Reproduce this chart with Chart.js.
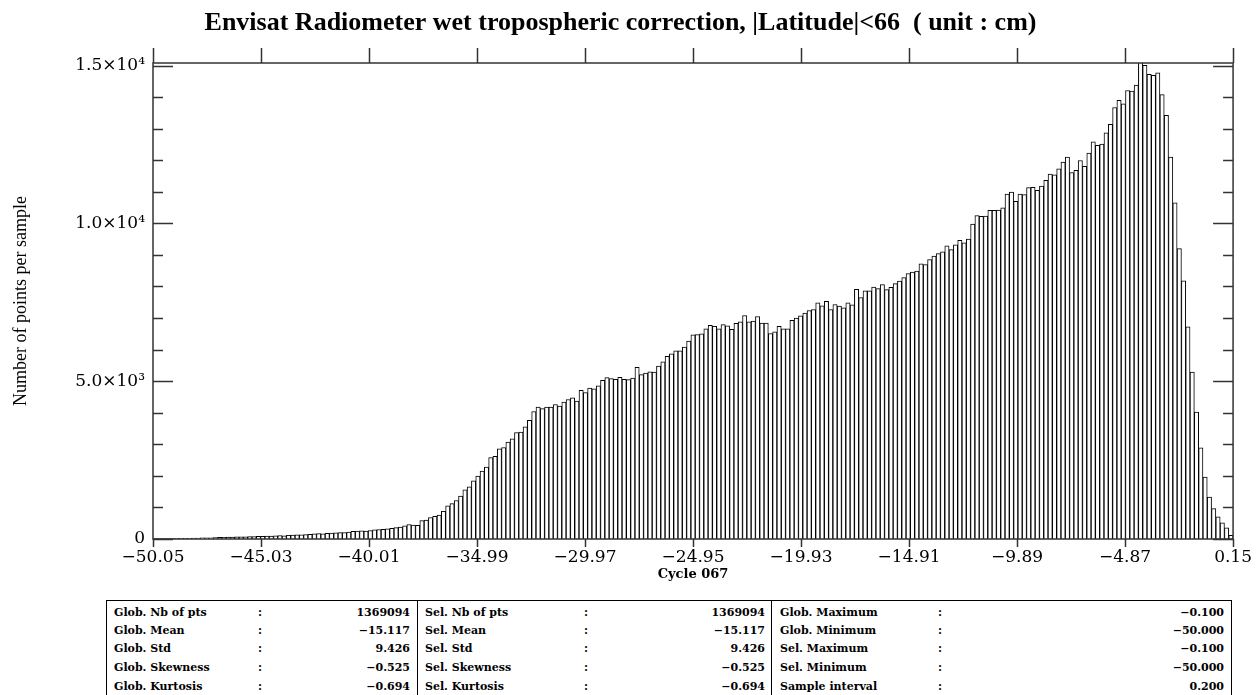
<!DOCTYPE html>
<html lang="en">
<head>
<meta charset="UTF-8">
<title>Envisat Radiometer wet tropospheric correction</title>
<script src="https://cdn.jsdelivr.net/npm/chart.js"></script>
<style>
  body { margin: 0; background: #fff; width: 1260px; height: 695px; overflow: hidden; position: relative; }
  #chartBox { position: absolute; left: 0; top: 0; width: 1260px; height: 595px; }
  .stats { position: absolute; top: 600px; left: 106px; width: 1126px; height: 100px;
           border: 1.5px solid #000; box-sizing: border-box; font: bold 11px 'DejaVu Serif', serif; color: #000; }
  .cell { position: absolute; white-space: nowrap; line-height: 14px; }
  .sep { position: absolute; top: 0; bottom: 0; border-left: 1.5px solid #000; }
</style>
</head>
<body>
<div id="chartBox"><canvas id="histo" width="1260" height="595"></canvas></div>
<div class="stats" id="stats"></div>

<script>
// histogram data (cycle 067), bins of 0.2 cm starting at -50.05
const chartTitle = 'Envisat Radiometer wet tropospheric correction, |Latitude|<66  ( unit : cm)';
const binStart = -50.05;
const binWidth = 0.2;
const counts = [
  10, 10, 10, 15, 15, 20, 20, 25, 25, 30, 30,
  35, 40, 40, 45, 50, 55, 60, 60, 65, 70,
  70, 75, 80, 85, 85, 90, 95, 100, 110, 100,
  120, 125, 135, 130, 140, 150, 160, 170, 160, 180,
  190, 195, 200, 200, 220, 240, 250, 260, 250, 270,
  290, 300, 310, 320, 340, 360, 380, 420, 460, 440,
  430, 580, 600, 680, 720, 760, 880, 1050, 1120, 1220,
  1360, 1560, 1650, 1840, 1990, 2150, 2280, 2580, 2620, 2860,
  2900, 3070, 3170, 3370, 3390, 3550, 3760, 4040, 4180, 4130,
  4180, 4180, 4260, 4210, 4340, 4420, 4470, 4370, 4710, 4640,
  4780, 4760, 4850, 5030, 5110, 5080, 5060, 5120, 5060, 5050,
  5100, 5440, 5210, 5260, 5300, 5290, 5480, 5610, 5790, 5870,
  5960, 5960, 6080, 6270, 6470, 6480, 6500, 6660, 6770, 6740,
  6660, 6790, 6750, 6640, 6830, 6880, 7080, 6880, 6900, 7050,
  6840, 6840, 6510, 6560, 6740, 6660, 6660, 6930, 7000, 7070,
  7160, 7240, 7270, 7480, 7390, 7530, 7270, 7430, 7380, 7320,
  7480, 7420, 7910, 7650, 7860, 7860, 7980, 7930, 8060, 7900,
  7970, 8090, 8170, 8280, 8410, 8460, 8490, 8720, 8690, 8850,
  8960, 9040, 9100, 9290, 9170, 9320, 9460, 9380, 9500, 9980,
  10250, 10220, 10230, 10410, 10410, 10420, 10490, 10930, 10990, 10700,
  10930, 10910, 11130, 11140, 11050, 11180, 11360, 11560, 11540, 11730,
  11940, 12100, 11610, 11680, 11990, 11810, 12230, 12580, 12470, 12510,
  12870, 13140, 13670, 13900, 13790, 14210, 14190, 14380, 15100, 15010,
  14720, 14690, 14770, 14080, 13420, 12100, 10650, 9200, 8180, 6720,
  5290, 4020, 2890, 1960, 1330, 960, 700, 510, 350, 120
];

const xTickValues = [-50.05, -45.03, -40.01, -34.99, -29.97, -24.95, -19.93, -14.91, -9.89, -4.87, 0.15];
const xTickLabels = ['\u221250.05', '\u221245.03', '\u221240.01', '\u221234.99', '\u221229.97', '\u221224.95',
                     '\u221219.93', '\u221214.91', '\u22129.89', '\u22124.87', '0.15'];
const yTickValues = [0, 5000, 10000, 15000];
const yTickLabels = ['0', '5.0\u00d710\u00b3', '1.0\u00d710\u2074', '1.5\u00d710\u2074'];
const yMinorStep = 1000;
const yMax = 15080;

// statistics box
const globLabels = ['Glob. Nb of pts', 'Glob. Mean', 'Glob. Std', 'Glob. Skewness', 'Glob. Kurtosis'];
const globValues = ['1369094', '\u221215.117', '9.426', '\u22120.525', '\u22120.694'];
const selLabels = ['Sel. Nb of pts', 'Sel. Mean', 'Sel. Std', 'Sel. Skewness', 'Sel. Kurtosis'];
const selValues = ['1369094', '\u221215.117', '9.426', '\u22120.525', '\u22120.694'];
const extLabels = ['Glob. Maximum', 'Glob. Minimum', 'Sel. Maximum', 'Sel. Minimum', 'Sample interval'];
const extValues = ['\u22120.100', '\u221250.000', '\u22120.100', '\u221250.000', '0.200'];

const binCenters = counts.map((_, i) => +(binStart + binWidth * (i + 0.5)).toFixed(2));

// frame + tick marks like the original plot (inward y ticks, outward x ticks)
const frameTicks = {
  id: 'frameTicks',
  afterDatasetsDraw(chart) {
    const { ctx, chartArea: a, scales: { x, y } } = chart;
    ctx.save();
    ctx.strokeStyle = '#333';
    ctx.lineWidth = 1.5;
    ctx.strokeRect(a.left, a.top, a.right - a.left, a.bottom - a.top);
    ctx.beginPath();
    xTickValues.forEach(v => {
      const px = Math.round(x.getPixelForValue(v)) + 0.5;
      ctx.moveTo(px, a.top); ctx.lineTo(px, a.top - 15);
      ctx.moveTo(px, a.bottom); ctx.lineTo(px, a.bottom + 8);
    });
    for (let v = 0; v <= yTickValues[yTickValues.length - 1]; v += yMinorStep) {
      const py = Math.round(y.getPixelForValue(v)) + 0.5;
      const len = v % 5000 === 0 ? 20 : 10;
      ctx.moveTo(a.left, py); ctx.lineTo(a.left + len, py);
      ctx.moveTo(a.right, py); ctx.lineTo(a.right - len, py);
    }
    ctx.stroke();
    ctx.restore();
  }
};

const titleSize = 26;
const ctx = document.getElementById('histo').getContext('2d');
const chart = new Chart(ctx, {
  type: 'bar',
  data: {
    labels: binCenters,
    datasets: [{
      data: counts,
      backgroundColor: '#fff',
      borderColor: '#000',
      borderWidth: 1,
      barPercentage: 1,
      categoryPercentage: 1
    }]
  },
  options: {
    responsive: false,
    animation: false,
    layout: { padding: { left: 0, right: 19, top: 0, bottom: 5 } },
    plugins: {
      legend: { display: false },
      tooltip: { enabled: false },
      title: {
        display: true,
        text: chartTitle,
        color: '#000',
        font: { family: 'Liberation Serif', size: titleSize, weight: 'bold' },
        padding: { top: 8, bottom: 63 - 8 - titleSize * 1.2 }
      }
    },
    scales: {
      x: {
        type: 'linear',
        min: -50.05,
        max: 0.15,
        offset: false,
        afterBuildTicks: s => { s.ticks = xTickValues.map(v => ({ value: v })); },
        afterFit: s => { s.height = 51; },
        grid: { display: false, drawTicks: false },
        border: { display: false },
        ticks: {
          autoSkip: false, maxRotation: 0, padding: 8, color: '#000',
          font: { family: 'DejaVu Serif', size: 17 },
          callback: (v, i) => xTickLabels[i]
        },
        title: {
          display: true, text: 'Cycle 067', color: '#000',
          font: { family: 'DejaVu Serif', size: 13, weight: 'bold' },
          padding: { top: 0, bottom: 8 }
        }
      },
      y: {
        min: 0,
        max: yMax,
        afterBuildTicks: s => { s.ticks = yTickValues.map(v => ({ value: v })); },
        afterFit: s => { s.width = 153; },
        grid: { display: false, drawTicks: false },
        border: { display: false },
        ticks: {
          padding: 8, color: '#000',
          font: { family: 'DejaVu Serif', size: 17 },
          callback: (v, i) => yTickLabels[i]
        },
        title: {
          display: true, text: 'Number of points per sample', color: '#000',
          font: { family: 'Liberation Serif', size: 18 },
          padding: { top: 10, bottom: 0 }
        }
      }
    }
  },
  plugins: [frameTicks]
});

// fill the statistics table
const box = document.getElementById('stats');
const boxWidth = 1126;
const panels = [
  { labels: globLabels, values: globValues, labelX: 7, colonX: 151, valueRight: 302 },
  { labels: selLabels, values: selValues, labelX: 318, colonX: 477, valueRight: 657 },
  { labels: extLabels, values: extValues, labelX: 673, colonX: 831, valueRight: 1116 }
];
const rowTops = [5, 23, 41, 60, 79];
[310, 664].forEach(x => {
  const d = document.createElement('div');
  d.className = 'sep';
  d.style.left = x + 'px';
  box.appendChild(d);
});
panels.forEach(p => {
  p.labels.forEach((lab, r) => {
    const l = document.createElement('div');
    l.className = 'cell';
    l.style.left = p.labelX + 'px';
    l.style.top = rowTops[r] + 'px';
    l.textContent = lab;
    box.appendChild(l);

    const c = document.createElement('div');
    c.className = 'cell';
    c.style.left = p.colonX + 'px';
    c.style.top = rowTops[r] + 'px';
    c.textContent = ':';
    box.appendChild(c);

    const v = document.createElement('div');
    v.className = 'cell';
    v.style.right = (boxWidth - 3 - p.valueRight) + 'px';
    v.style.top = rowTops[r] + 'px';
    v.textContent = p.values[r];
    box.appendChild(v);
  });
});
</script>
</body>
</html>
